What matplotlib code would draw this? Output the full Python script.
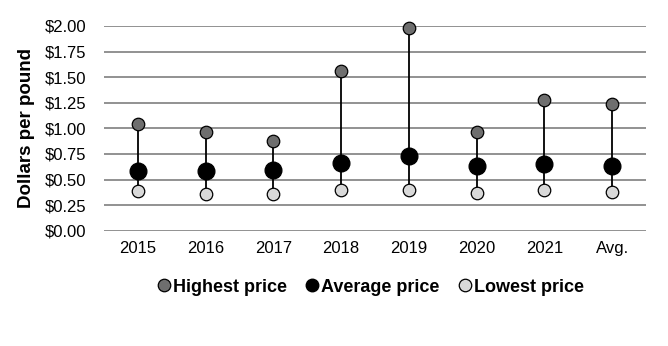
import numpy as np
import matplotlib.pyplot as plt

plt.rcParams['font.family'] = ['Liberation Sans', 'DejaVu Sans']

# data
categories = ['2015', '2016', '2017', '2018', '2019', '2020', '2021', 'Avg.']
highest = [1.04, 0.96, 0.88, 1.56, 1.98, 0.96, 1.28, 1.24]
average = [0.58, 0.58, 0.59, 0.66, 0.73, 0.635, 0.65, 0.63]
lowest = [0.39, 0.36, 0.36, 0.40, 0.40, 0.365, 0.40, 0.38]

fig = plt.figure(figsize=(6.68, 3.46), dpi=100)
ax = fig.add_axes([0.1557, 0.333, 0.8113, 0.592])

x = np.arange(len(categories))

# gridlines
for v in np.arange(0, 2.01, 0.25):
    ax.axhline(v, color='#7f7f7f', linewidth=1.2, zorder=1)

# stems from low to high
ax.vlines(x, lowest, highest, color='black', linewidth=1.3, zorder=2)

ax.plot(x, highest, 'o', color='#6e6e6e', markeredgecolor='black', markeredgewidth=0.9,
        markersize=9, label='Highest price', zorder=3, clip_on=False)
ax.plot(x, average, 'o', color='black', markeredgecolor='black',
        markersize=12, label='Average price', zorder=4, clip_on=False)
ax.plot(x, lowest, 'o', color='#d9d9d9', markeredgecolor='black', markeredgewidth=0.9,
        markersize=9, label='Lowest price', zorder=3, clip_on=False)

ax.set_xlim(-0.5, len(categories) - 0.5)
ax.set_ylim(0, 2)
ax.set_xticks(x)
ax.set_xticklabels(categories, fontsize=12)
ax.set_yticks(np.arange(0, 2.01, 0.25))
ax.set_yticklabels(['${:.2f}'.format(v) for v in np.arange(0, 2.01, 0.25)], fontsize=12)
ax.tick_params(length=0, pad=7)
ax.tick_params(axis='y', pad=13)
for s in ax.spines.values():
    s.set_visible(False)

ax.set_ylabel('Dollars per pound', fontsize=13.5, fontweight='bold', labelpad=7)

leg = ax.legend(loc='upper center', bbox_to_anchor=(0.49, -0.155), ncol=3, frameon=False,
                prop={'size': 13, 'weight': 'bold'}, handletextpad=0.0,
                columnspacing=0.9, handlelength=1.0)
for h in leg.legend_handles:
    h.set_markersize(9)

fig.savefig('out.png', dpi=100)
